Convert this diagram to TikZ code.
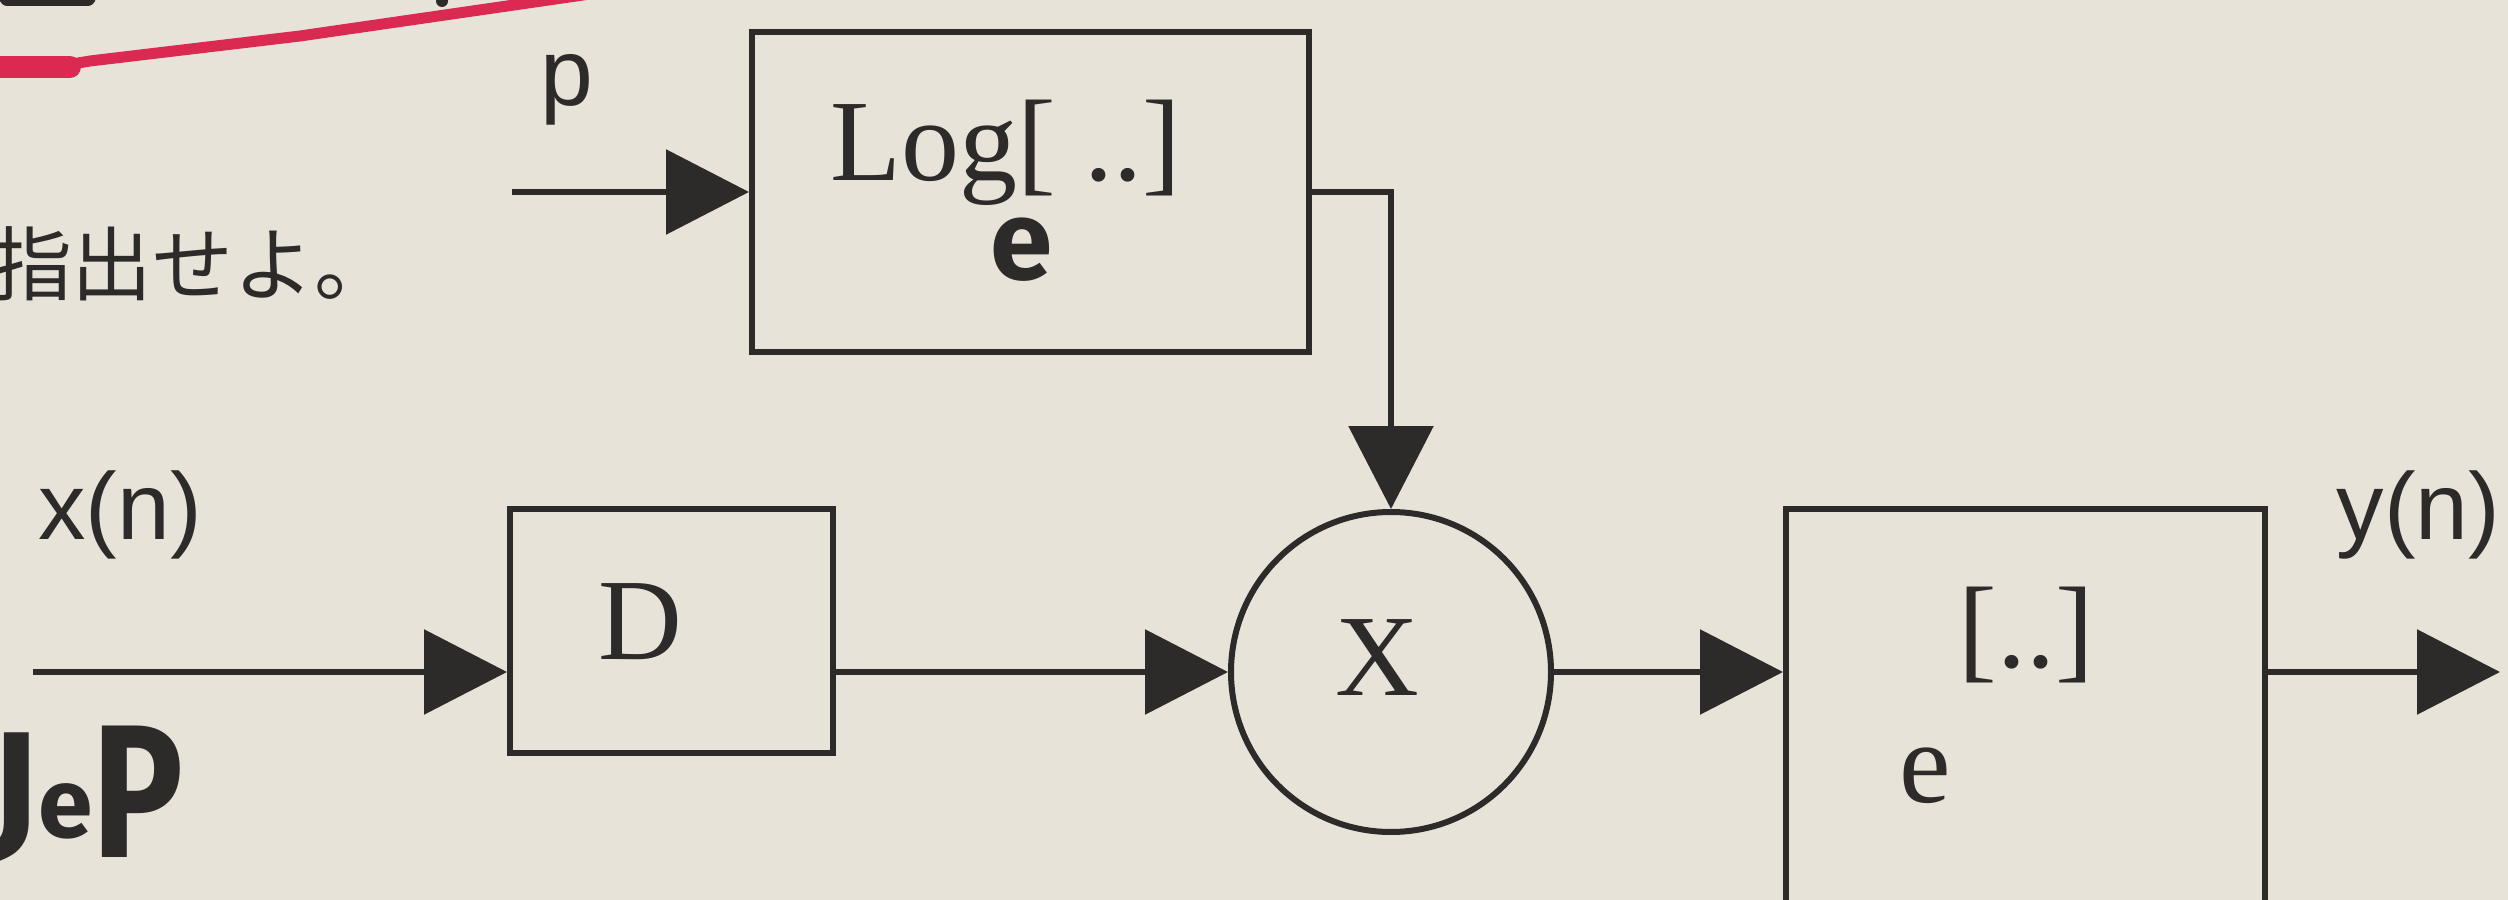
\documentclass[tikz,border=0pt]{standalone}
\usepackage{fontspec}
\setmainfont{Liberation Serif}
\setsansfont{Liberation Sans}
\newfontfamily\jpfont{Noto Sans CJK JP}
\newfontfamily\handfont{Fira Sans}
\usetikzlibrary{arrows.meta,positioning,calc}
\definecolor{paper}{RGB}{232,227,217}
\definecolor{ink}{RGB}{45,42,42}
\definecolor{redpen}{RGB}{218,42,82}

\begin{document}
\begin{tikzpicture}[x=0.1mm,y=-0.1mm,
    blk/.style={draw=ink,line width=0.6mm,rectangle,inner sep=0pt},
    sig/.style={draw=ink,line width=0.6mm,-{Triangle[length=8.3mm,width=8.4mm]}},
    lbl/.style={font=\sffamily\fontsize{27}{30}\selectfont,text=ink,inner sep=0pt},
    srf/.style={font=\fontsize{33}{36}\selectfont,text=ink,inner sep=0pt},
    hand/.style={font=\handfont\bfseries,text=ink,inner sep=0pt}]
    \useasboundingbox (0,0) rectangle (2508,900);
    \fill[paper] (0,0) rectangle (2508,900);
    \clip (0,0) rectangle (2508,900);
    \node[blk,minimum width=55.7mm,minimum height=32mm] (logbox) at (1030.5,192) {};
    \node[blk,minimum width=32.3mm,minimum height=24.4mm] (dbox) at (671.5,631) {};
    \node[blk,circle,minimum size=32mm] (mult) at (1391,672) {};
    \node[blk,minimum width=47.9mm,minimum height=49.1mm] (expbox) at (2025.5,754.5) {};
    \node[srf] (logtxt) at (1006,153) {Log[ ..]};
    \node[hand,font=\handfont\bfseries\fontsize{32}{34}\selectfont] (loge) at (1022,250) {e};
    \node[srf] (dtxt) at (640,622) {D};
    \node[srf] (xtxt) at (1377,658) {X};
    \node[srf] (brk) at (2026,635) {[..]};
    \node[srf] (base) at (1925,776) {e};
    \node[lbl] (plbl) at (567,90) {p};
    \node[lbl] (xlbl) at (120,515) {x(n)};
    \node[lbl,anchor=west] (ylbl) at (2336,515) {y(n)};
    \node[font=\jpfont\fontsize{23}{26}\selectfont,text=ink,inner sep=0pt,anchor=east] (note) at (396,264) {指出せよ。};
    \node[hand,anchor=base west] (sign) at (-10,837) {\fontsize{43}{46}\selectfont J\fontsize{28}{30}\selectfont e\raisebox{-2mm}{\scalebox{0.8}[1]{\fontsize{54}{58}\selectfont P}}};
    \fill[ink,rounded corners=2pt] (0,-5) rectangle (95,6);
    \fill[ink] (442,1) circle (6);
    \draw[redpen,line width=1.1mm,line cap=round,line join=round] (-10,66) -- (60,66) -- (90,61) -- (300,36) -- (590,-6);
    \draw[redpen,line width=2.2mm,line cap=round] (-10,67) -- (70,67);
    \coordinate (pin) at (512,192);
    \coordinate (xin) at (33,672);
    \coordinate (yout) at (2500,672);
    \draw[sig] (pin) -- (logbox.west);
    \draw[sig] (logbox.east) -| (mult.north);
    \draw[sig] (xin) -- (xin -| dbox.west);
    \draw[sig] (xin -| dbox.east) -- (mult.west);
    \draw[sig] (mult.east) -- (xin -| expbox.west);
    \draw[sig] (xin -| expbox.east) -- (yout);
\end{tikzpicture}
\end{document}
